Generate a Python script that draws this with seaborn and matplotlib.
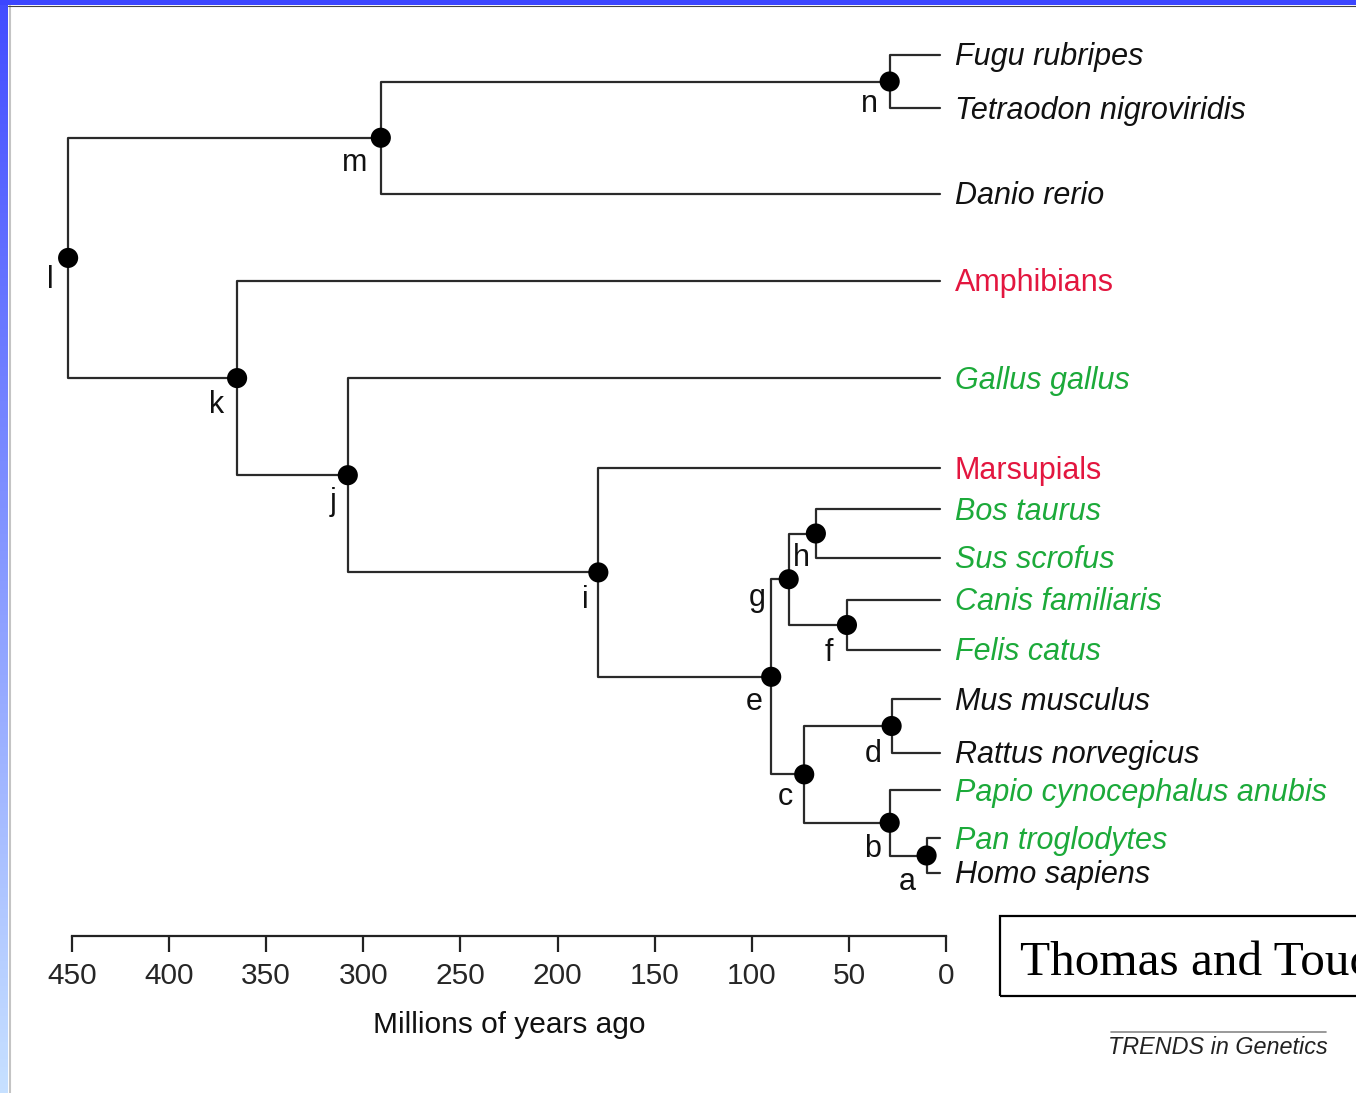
import pandas as pd
import numpy as np
import matplotlib
matplotlib.use("Agg")
import matplotlib.pyplot as plt
from matplotlib.patches import Rectangle
from matplotlib.lines import Line2D
import seaborn as sns

# --- data ---------------------------------------------------------------
leaves = ["Fugu rubripes", "Tetraodon nigroviridis", "Danio rerio", "Amphibians",
          "Gallus gallus", "Marsupials", "Bos taurus", "Sus scrofus",
          "Canis familiaris", "Felis catus", "Mus musculus", "Rattus norvegicus",
          "Papio cynocephalus anubis", "Pan troglodytes", "Homo sapiens"]
leaf_row = [55, 108, 194, 281, 378, 468, 509, 558, 600, 650, 699, 753, 790, 838, 873]
leaf_group = ["black", "black", "black", "red", "green", "red", "green", "green",
              "green", "green", "black", "black", "green", "green", "black"]
leaf_age = 3

nodes = ["a", "b", "c", "d", "e", "f", "g", "h", "i", "j", "k", "l", "m", "n"]
node_age = [10, 29, 73, 28, 90, 51, 81, 67, 179, 308, 365, 452, 291, 29]
children = {
    "n": ["Fugu rubripes", "Tetraodon nigroviridis"],
    "m": ["n", "Danio rerio"],
    "l": ["m", "k"],
    "k": ["Amphibians", "j"],
    "j": ["Gallus gallus", "i"],
    "i": ["Marsupials", "e"],
    "e": ["g", "c"],
    "g": ["h", "f"],
    "h": ["Bos taurus", "Sus scrofus"],
    "f": ["Canis familiaris", "Felis catus"],
    "c": ["d", "b"],
    "d": ["Mus musculus", "Rattus norvegicus"],
    "b": ["Papio cynocephalus anubis", "a"],
    "a": ["Pan troglodytes", "Homo sapiens"],
}
ticks = [450, 400, 350, 300, 250, 200, 150, 100, 50, 0]

# --- tree geometry ------------------------------------------------------
age = dict(zip(nodes, node_age))
row = dict(zip(leaves, leaf_row))
for name in leaves:
    age[name] = leaf_age


def node_row(name):
    if name not in row:
        row[name] = np.mean([node_row(c) for c in children[name]])
    return row[name]


for n in nodes:
    node_row(n)

segs = []
for parent, kids in children.items():
    for kid in kids:
        sid = parent + "-" + kid
        segs += [(sid, age[parent], row[parent]),
                 (sid, age[parent], row[kid]),
                 (sid, age[kid], row[kid])]
branches = pd.DataFrame(segs, columns=["seg", "age", "row"])
dots = pd.DataFrame({"node": nodes, "age": [age[n] for n in nodes],
                     "row": [row[n] for n in nodes]})

# --- style --------------------------------------------------------------
sns.set_theme(style="white")
plt.rcParams["font.family"] = ["Liberation Sans", "DejaVu Sans"]

W, H = 1356, 1093
PX = 874 / 450          # pixels per million years
X0 = 946                # pixel column of 0 My
colors = {"black": "#111111", "red": "#e3163f", "green": "#1caa3a"}

fig = plt.figure(figsize=(W / 100, H / 100), dpi=100)
ax = fig.add_axes([0, 0, 1, 1])
ax.set_xlim(X0 / PX, (X0 - W) / PX)
ax.set_ylim(H, 0)

sns.lineplot(data=branches, x="age", y="row", units="seg", estimator=None,
             sort=False, color="#2a2a2a", linewidth=1.6, ax=ax)
sns.scatterplot(data=dots, x="age", y="row", color="black", s=210,
                edgecolor="none", ax=ax, zorder=3)

# leaf names
for name, g in zip(leaves, leaf_group):
    italic = name not in ("Amphibians", "Marsupials")
    ax.text(-4.5, row[name] + 2.5, name, fontsize=22, color=colors[g],
            style="italic" if italic else "normal", ha="left", va="center")

# node letters (pixel offsets from the dot)
letter_off = {"a": (-19, 26), "b": (-17, 26), "c": (-19, 23), "d": (-18, 28),
              "e": (-17, 25), "f": (-18, 28), "g": (-31, 19), "h": (-14, 25),
              "i": (-13, 28), "j": (-15, 27), "k": (-21, 27), "l": (-18, 22),
              "m": (-26, 25), "n": (-20, 23)}
for n in nodes:
    dx, dy = letter_off[n]
    ax.annotate(n, (age[n], row[n]), xytext=(dx * 0.72, -dy * 0.72),
                textcoords="offset points", fontsize=22, color="#111111",
                ha="center", va="center")

# time axis
for s in ["top", "left", "right"]:
    ax.spines[s].set_visible(False)
ax.spines["bottom"].set_position(("data", 936))
ax.spines["bottom"].set_bounds(450, 0)
ax.spines["bottom"].set_color("#222222")
ax.spines["bottom"].set_linewidth(1.6)
ax.set_yticks([])
ax.set_xticks(ticks)
ax.set_xticklabels([str(t) for t in ticks])
ax.tick_params(axis="x", direction="out", length=11.5, width=1.6,
               color="#222222", labelsize=21.5, pad=7.5, bottom=True)
ax.set_xlabel("Millions of years ago", fontsize=21.5, color="#111111")
ax.xaxis.set_label_coords(225, 1025, transform=ax.transData)
ax.xaxis.label.set_va("center")
ax.set_ylabel("")

# citation box and journal tag
fig.add_artist(Rectangle((1000 / W, 1 - 996 / H), 400 / W, 80 / H,
                         transform=fig.transFigure, fill=False,
                         edgecolor="black", linewidth=1.6))
fig.text(1020 / W, 1 - 975 / H, "Thomas and Touchman", family="Liberation Serif",
         fontsize=35.5, color="black", va="baseline", ha="left")
fig.add_artist(Line2D([1111 / W, 1326 / W], [1 - 1032 / H, 1 - 1032 / H],
                      transform=fig.transFigure, color="#888888", linewidth=1.2))
fig.text(1218 / W, 1 - 1048 / H, "TRENDS in Genetics", fontsize=16.8,
         style="italic", color="#222222", ha="center", va="center")

# slide frame: blue gradient left bar, blue top bar
gax = fig.add_axes([0, 0, 8 / W, 1])
top = np.array([0.26, 0.30, 1.0])
bot = np.array([0.78, 0.88, 1.0])
t = np.linspace(0, 1, 256)[:, None, None]
gax.imshow(top + (bot - top) * t, aspect="auto")
gax.set_axis_off()
fig.add_artist(Line2D([9.5 / W, 9.5 / W], [0, 1 - 6 / H], transform=fig.transFigure,
                      color="#c4c4c4", linewidth=1.5))
fig.add_artist(Rectangle((0, 1 - 5 / H), 1, 5 / H, transform=fig.transFigure,
                         color="#3c46ff", linewidth=0))
fig.add_artist(Line2D([8 / W, 1], [1 - 6 / H, 1 - 6 / H], transform=fig.transFigure,
                      color="#444444", linewidth=0.8))

fig.savefig("out.png", dpi=100)
